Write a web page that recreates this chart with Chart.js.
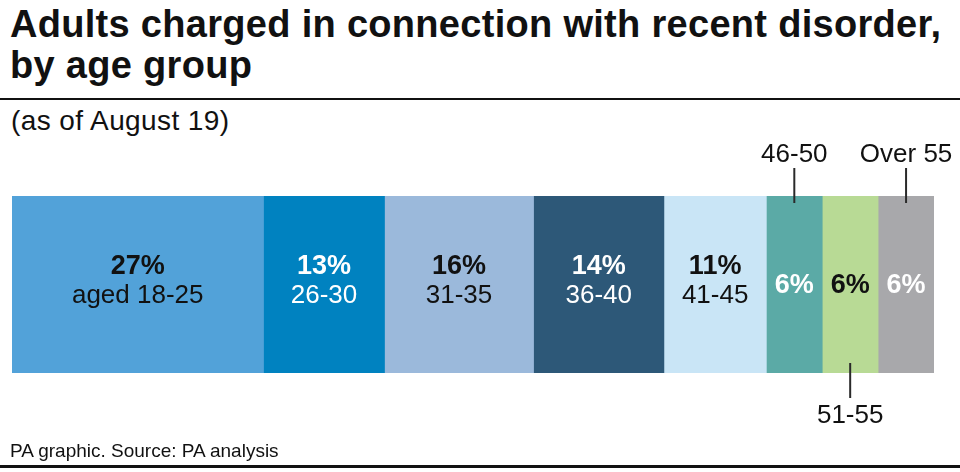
<!DOCTYPE html>
<html><head><meta charset="utf-8">
<script src="https://cdn.jsdelivr.net/npm/chart.js@4"></script>
<style>
html,body{margin:0;padding:0;background:#fff;width:960px;height:472px;overflow:hidden;font-family:"Liberation Sans",Arial,sans-serif;}
#wrap{position:absolute;left:0;top:0;width:960px;height:472px;}
#title{position:absolute;left:10px;top:4px;font-weight:bold;font-size:38px;line-height:41px;color:#111;letter-spacing:0.3px;white-space:nowrap;}
#rule{position:absolute;left:0;top:98px;width:960px;height:2px;background:#111;}
#sub{position:absolute;left:11px;top:105px;font-size:28px;color:#111;letter-spacing:0.4px;white-space:nowrap;}
#foot{position:absolute;left:10px;top:440px;font-size:19px;color:#111;white-space:nowrap;}
#bottom{position:absolute;left:0;top:465px;width:960px;height:3px;background:#111;}
canvas{position:absolute;left:0;top:0;}
</style></head>
<body><div id="wrap">
<div id="title">Adults charged in connection with recent disorder,<br>by age group</div>
<div id="rule"></div>
<div id="sub">(as of August 19)</div>
<canvas id="c" width="960" height="472"></canvas>
<div id="foot">PA graphic. Source: PA analysis</div>
<div id="bottom"></div>
</div>
<script>
const categories = ["aged 18-25","26-30","31-35","36-40","41-45","46-50","51-55","Over 55"];
const values = [27,13,16,14,11,6,6,6];
const colors = ["#52a2d9","#0082c0","#9bb9db","#2d5878","#c9e5f6","#5baaa6","#b8da95","#a8a8ab"];
const textColors = ["#111","#fff","#111","#fff","#111","#fff","#111","#fff"];
// label placement: 'in' = both lines inside, 'top'/'bottom' = category outside with leader line
const placement = ["in","in","in","in","in","top","bottom","top"];

const labelPlugin = {
  id:'labels',
  afterDatasetsDraw(chart){
    const ctx = chart.ctx;
    const area = chart.chartArea;
    const bold = 'bold 27px "Liberation Sans", Arial, sans-serif';
    const reg = '26px "Liberation Sans", Arial, sans-serif';
    chart.data.datasets.forEach((ds,i)=>{
      const el = chart.getDatasetMeta(i).data[0];
      const cx = (el.x + el.base)/2;
      const cy = el.y;
      const pct = values[i] + '%';
      ctx.save();
      ctx.textAlign='center';
      ctx.textBaseline='alphabetic';
      if(placement[i]==='in'){
        ctx.fillStyle = textColors[i];
        ctx.font = bold;
        ctx.fillText(pct, cx, cy-11);
        ctx.font = reg;
        ctx.fillText(categories[i], cx, cy+18);
      } else {
        ctx.fillStyle = textColors[i];
        ctx.font = bold;
        ctx.fillText(pct, cx, cy+8);
        ctx.strokeStyle='#2a2a2a'; ctx.lineWidth=2;
        ctx.fillStyle='#111';
        ctx.font = reg;
        ctx.beginPath();
        if(placement[i]==='top'){
          ctx.moveTo(cx, area.top+7); ctx.lineTo(cx, area.top-28); ctx.stroke();
          ctx.fillText(categories[i], cx, area.top-34);
        } else {
          ctx.moveTo(cx, area.bottom-10); ctx.lineTo(cx, area.bottom+25); ctx.stroke();
          ctx.fillText(categories[i], cx, area.bottom+50);
        }
      }
      ctx.restore();
    });
  }
};

new Chart(document.getElementById('c'),{
  type:'bar',
  data:{
    labels:['all'],
    datasets: categories.map((c,i)=>({label:c,data:[values[i]],backgroundColor:colors[i],borderWidth:0,barPercentage:1,categoryPercentage:1}))
  },
  options:{
    indexAxis:'y',
    responsive:false,
    animation:false,
    layout:{padding:{left:12,right:26,top:196,bottom:99}},
    plugins:{legend:{display:false},tooltip:{enabled:false},title:{display:false}},
    scales:{
      x:{stacked:true,min:0,max:99,display:false},
      y:{stacked:true,display:false}
    }
  },
  plugins:[labelPlugin]
});
</script>
</body></html>
